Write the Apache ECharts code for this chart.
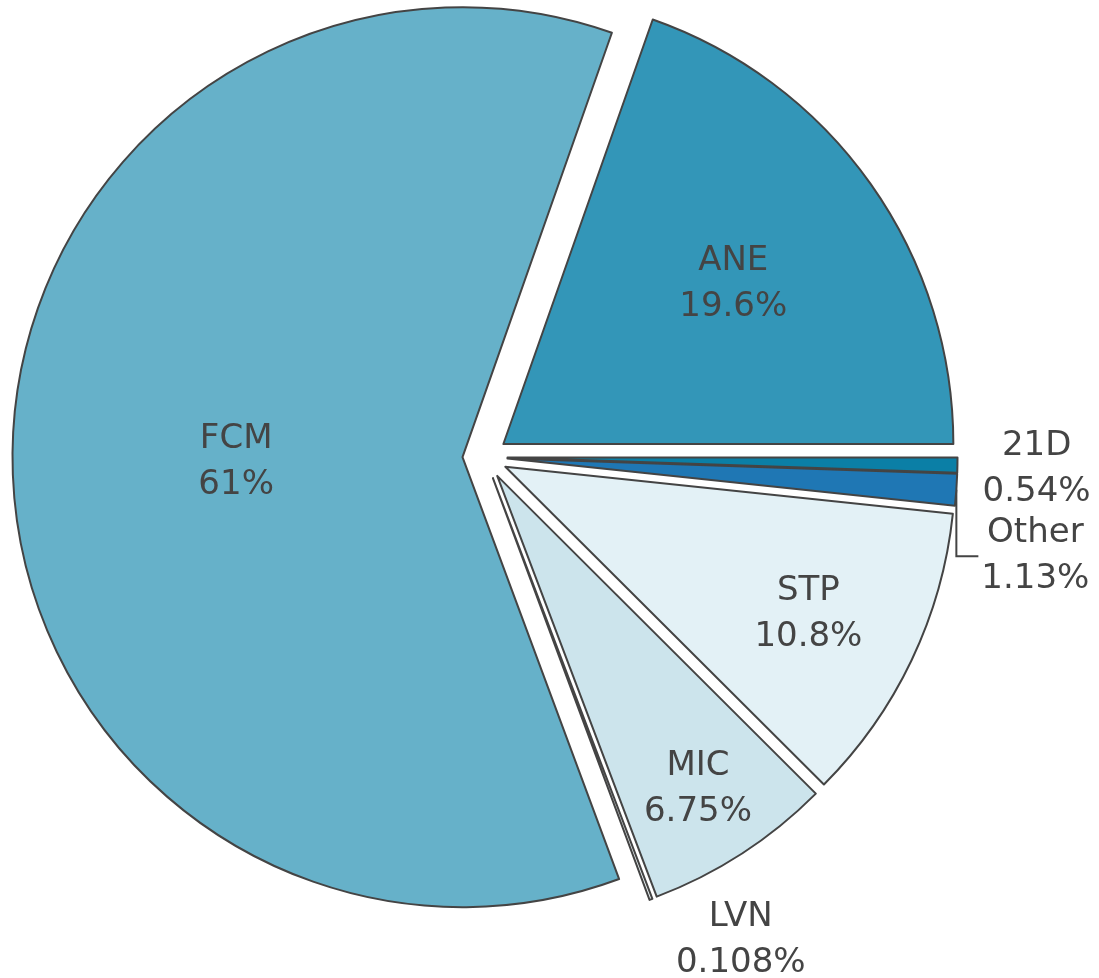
<!DOCTYPE html>
<html>
<head>
<meta charset="utf-8">
<script src="https://cdn.jsdelivr.net/npm/echarts@6/dist/echarts.min.js"></script>
<style>
html,body{margin:0;padding:0;background:#ffffff;}
#chart{width:1099px;height:978px;}
</style>
</head>
<body>
<div id="chart"></div>
<script>
// ---- data (counter-clockwise from 3 o'clock) ----
const categories = ['ANE', 'FCM', 'LVN', 'MIC', 'STP', 'Other', '21D'];
const values = [19.6, 61, 0.108, 6.75, 10.8, 1.13, 0.54];

// ---- styles ----
const colors = ['#3396b8', '#66b1c9', '#eef6f8', '#cce4ec', '#e3f1f6', '#1f77b4', '#0b7fa6'];
// label placement: fraction of radius along each slice bisector, plus a pixel nudge
const labelRadius = [0.626, 0.503, 1.10, 0.821, 0.746, 1.176, 1.176];
const labelNudge = [[0, 0], [0, 0], [74, -4], [0, 0], [0, 0], [0, 58], [0, 0]];
const labelOutside = [false, false, true, false, false, true, true];
const labelConnector = [false, false, false, false, false, true, false];
const TEXT_SHIFT_Y = 3;

const CX = 485, CY = 457, R = 450, PULL = 22.5;
const TEXT = '#444444';
const FONT = 'DejaVu Sans';

const total = values.reduce((a, b) => a + b, 0);
const mids = [];
let acc = 0;
values.forEach(v => {
  const a0 = acc;
  acc += v / total * 2 * Math.PI;
  mids.push((a0 + acc) / 2);
});
function anchor(i, frac) {
  const m = mids[i];
  const ox = CX + PULL * Math.cos(m), oy = CY - PULL * Math.sin(m);
  return [ox + frac * R * Math.cos(m), oy - frac * R * Math.sin(m)];
}

// slices (all pulled out)
const sliceData = categories.map((name, i) => ({
  name: name,
  value: values[i],
  selected: true,
  itemStyle: { color: colors[i] }
}));
// text layer (same slices, invisible) carrying the labels
const labelData = categories.map((name, i) => ({
  name: name,
  value: values[i],
  label: { position: labelOutside[i] ? 'outside' : 'inside' },
  labelLine: { show: labelConnector[i] }
}));

const chart = echarts.init(document.getElementById('chart'), null, { renderer: 'canvas' });
chart.setOption({
  animation: false,
  backgroundColor: '#ffffff',
  series: [{
    type: 'pie',
    center: [CX, CY],
    radius: [0, R],
    startAngle: 0,
    clockwise: false,
    minAngle: 0,
    selectedMode: 'multiple',
    selectedOffset: PULL,
    silent: true,
    itemStyle: { borderColor: '#444444', borderWidth: 2 },
    select: { itemStyle: { borderColor: '#444444', borderWidth: 2 } },
    emphasis: { disabled: true },
    label: { show: false },
    labelLine: { show: false },
    data: sliceData
  }, {
    type: 'pie',
    center: [CX, CY],
    radius: [0, R],
    startAngle: 0,
    clockwise: false,
    minAngle: 0,
    silent: true,
    avoidLabelOverlap: false,
    selectedMode: false,
    itemStyle: { color: 'rgba(0,0,0,0)', borderWidth: 0 },
    emphasis: { disabled: true },
    label: {
      show: true,
      formatter: '{b}\n{c}%',
      color: TEXT,
      fontFamily: FONT,
      fontSize: 34,
      lineHeight: 46,
      align: 'center'
    },
    labelLine: { show: false, lineStyle: { color: '#444444', width: 2 }, smooth: false },
    labelLayout: function (p) {
      const i = p.dataIndex;
      const a = anchor(i, labelRadius[i]);
      const x = a[0] + labelNudge[i][0];
      const y = a[1] + labelNudge[i][1] + TEXT_SHIFT_Y;
      const out = { x: x, y: y, align: 'center', verticalAlign: 'middle' };
      if (labelConnector[i]) {
        const e = anchor(i, 1);
        const lx = x - p.labelRect.width / 2 - 3;
        out.labelLinePoints = [[e[0], e[1]], [e[0], y], [lx, y]];
      }
      return out;
    },
    data: labelData
  }]
});
</script>
</body>
</html>
